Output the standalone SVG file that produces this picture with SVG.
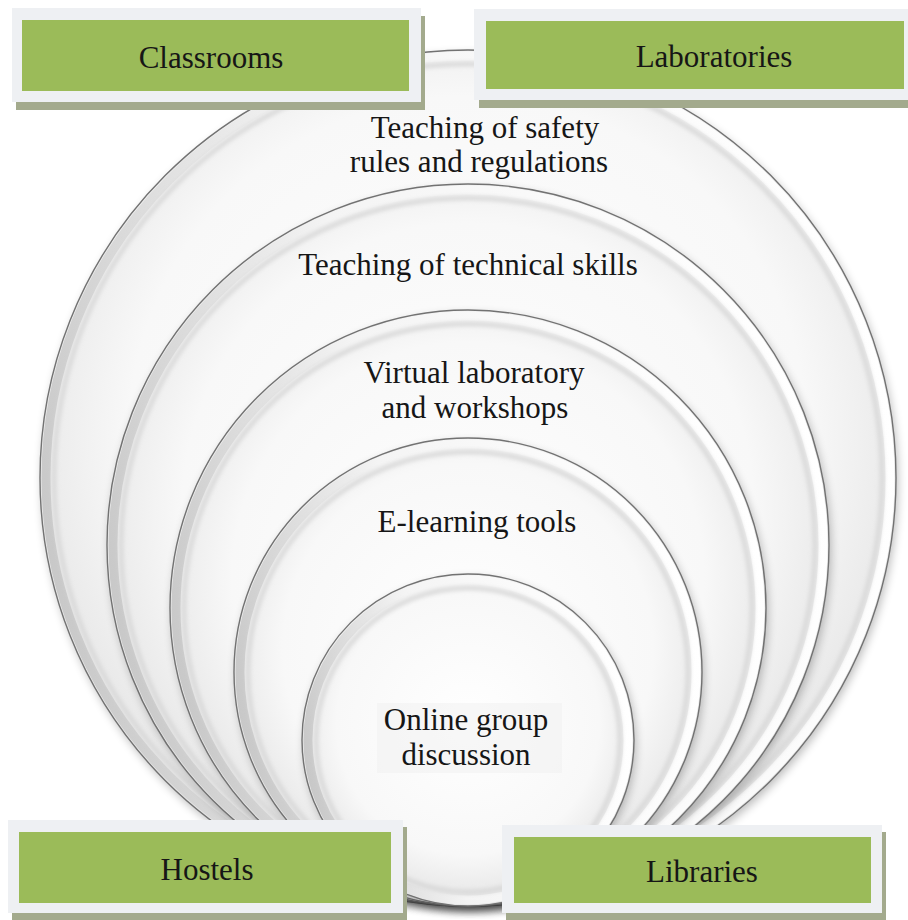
<svg xmlns="http://www.w3.org/2000/svg" width="908" height="920" viewBox="0 0 908 920">
<defs>
  <radialGradient id="face" cx="50%" cy="45%" r="55%">
    <stop offset="0" stop-color="#ffffff"/>
    <stop offset="0.72" stop-color="#f8f8f8"/>
    <stop offset="1" stop-color="#e4e4e4"/>
  </radialGradient>
  <linearGradient id="rim" x1="0" y1="0.6" x2="1" y2="0.4">
    <stop offset="0" stop-color="#c8c8c8"/>
    <stop offset="0.4" stop-color="#f4f4f4"/>
    <stop offset="1" stop-color="#ffffff"/>
  </linearGradient>
  <filter id="soft" x="-10%" y="-10%" width="120%" height="120%">
    <feGaussianBlur stdDeviation="5"/>
  </filter>
  <filter id="blur2" x="-10%" y="-10%" width="120%" height="120%">
    <feGaussianBlur stdDeviation="2"/>
  </filter>
</defs>
<style>
  .shadow { fill: #000; opacity: 0.26; filter: url(#soft); }
  .face { fill: url(#face); stroke: #727272; stroke-width: 1.4; }
  .rim { fill: none; stroke: url(#rim); stroke-width: 9; }
  .inset { fill: none; stroke: #d6d6d6; stroke-width: 4; filter: url(#blur2); }
  .bshadow { fill: #a3aa8d; }
  .frame { fill: #eef0f3; }
  .green { fill: #9bbb59; }
  .lbl { font-family: 'Liberation Serif', 'Times New Roman', serif; font-size: 31px; fill: #161616; text-anchor: middle; }
</style>
<rect width="908" height="920" fill="#ffffff"/>

<g id="ring1">
  <circle class="shadow" cx="470" cy="482" r="428"/>
  <circle class="face" cx="468" cy="478" r="428"/>
  <circle class="rim" cx="468" cy="478" r="422"/>
  <circle class="inset" cx="468" cy="478" r="414"/>
  <text class="lbl" x="485" y="138">Teaching of safety</text>
  <text class="lbl" x="479" y="172">rules and regulations</text>
</g>
<g id="ring2">
  <circle class="shadow" cx="470" cy="549" r="361"/>
  <circle class="face" cx="468" cy="545" r="361"/>
  <circle class="rim" cx="468" cy="545" r="355"/>
  <circle class="inset" cx="468" cy="545" r="347"/>
  <text class="lbl" x="468" y="275">Teaching of technical skills</text>
</g>
<g id="ring3">
  <circle class="shadow" cx="470" cy="612" r="298"/>
  <circle class="face" cx="468" cy="608" r="298"/>
  <circle class="rim" cx="468" cy="608" r="292"/>
  <circle class="inset" cx="468" cy="608" r="284"/>
  <text class="lbl" x="474" y="383">Virtual laboratory</text>
  <text class="lbl" x="475" y="418">and workshops</text>
</g>
<g id="ring4">
  <circle class="shadow" cx="470" cy="676" r="234"/>
  <circle class="face" cx="468" cy="672" r="234"/>
  <circle class="rim" cx="468" cy="672" r="228"/>
  <circle class="inset" cx="468" cy="672" r="220"/>
  <text class="lbl" x="477" y="532">E-learning tools</text>
</g>
<g id="ring5">
  <circle class="shadow" cx="470" cy="744" r="166"/>
  <circle class="face" cx="468" cy="740" r="166"/>
  <circle class="rim" cx="468" cy="740" r="160"/>
  <circle class="inset" cx="468" cy="740" r="152"/>
  <rect x="377" y="703" width="185" height="70" fill="#efefef" opacity="0.5"/>
  <text class="lbl" x="466" y="730">Online group</text>
  <text class="lbl" x="466" y="765">discussion</text>
</g>

<g id="connectors"></g>

<g id="classrooms">
  <rect class="bshadow" x="16" y="16" width="409" height="94"/>
  <rect class="frame" x="12" y="8" width="409" height="94"/>
  <rect class="green" x="22" y="20" width="387" height="71"/>
  <text class="lbl" x="211" y="68">Classrooms</text>
</g>
<g id="laboratories">
  <rect class="bshadow" x="479" y="16" width="434" height="92"/>
  <rect class="frame" x="474" y="9" width="434" height="91"/>
  <rect class="green" x="486" y="21" width="418" height="68"/>
  <text class="lbl" x="714" y="67">Laboratories</text>
</g>
<g id="hostels">
  <rect class="bshadow" x="12" y="827" width="395" height="95"/>
  <rect class="frame" x="8" y="820" width="395" height="93"/>
  <rect class="green" x="19" y="832" width="372" height="71"/>
  <text class="lbl" x="207" y="880">Hostels</text>
</g>
<g id="libraries">
  <rect class="bshadow" x="506" y="832" width="380" height="90"/>
  <rect class="frame" x="502" y="825" width="380" height="88"/>
  <rect class="green" x="514" y="837" width="357" height="66"/>
  <text class="lbl" x="702" y="882">Libraries</text>
</g>
</svg>
